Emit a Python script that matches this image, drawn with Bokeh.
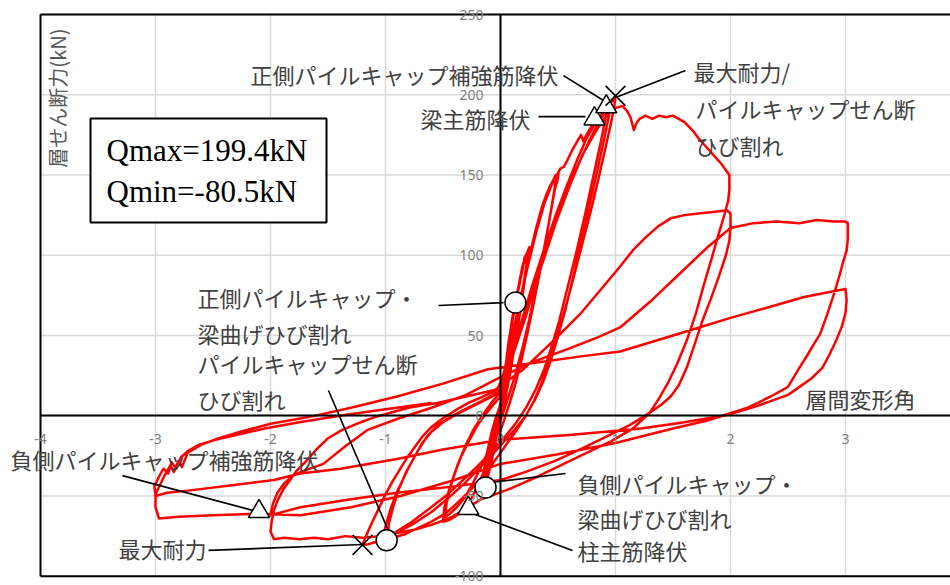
from math import pi
from bokeh.plotting import figure
from bokeh.models import Range1d, FixedTicker, Label, BoxAnnotation
from bokeh.embed import file_html
from bokeh.resources import INLINE

# ---------------- hysteresis path: drift angle (%) / storey shear (kN), cycle by cycle
c010_x = [0, 0.02, 0.04, 0.06, 0.08, 0.07, 0.05, 0.02, 0.0, -0.03, -0.06, -0.09, -0.1, -0.08, -0.05, -0.02]
c010_y = [0, 12, 25, 38, 50, 46, 34, 16, 5, -7, -17, -26, -30, -21, -9, 0]

c025a_x = [0.01, 0.04, 0.07, 0.10, 0.13, 0.16, 0.18, 0.2, 0.21, 0.22, 0.23, 0.24, 0.25, 0.24, 0.21, 0.17, 0.12, 0.08,
           0.04, 0.01, -0.02, -0.05, -0.08, -0.11, -0.14, -0.15, -0.13, -0.1, -0.06, -0.03]
c025a_y = [6, 24, 44, 60, 70.5, 80, 87, 94, 99, 95, 101, 103, 105, 99, 84, 64, 42, 25,
           10, 0, -9, -19, -29, -38, -45, -47, -38, -25, -11, -2]

c025b_x = [0.0, 0.04, 0.08, 0.12, 0.16, 0.19, 0.22, 0.24, 0.23, 0.2, 0.15, 0.1, 0.06, 0.02, -0.02, -0.06, -0.1, -0.14,
           -0.17, -0.15, -0.12, -0.08, -0.04, -0.01]
c025b_y = [4, 26, 48, 66, 82, 93, 100, 102, 96, 82, 58, 35, 18, 4, -8, -19, -30, -40,
           -46, -37, -24, -11, -1, 5]

c050a_x = [0.03, 0.08, 0.14, 0.2, 0.26, 0.31, 0.36, 0.4, 0.43, 0.46, 0.48, 0.49, 0.5, 0.505, 0.5, 0.47, 0.43, 0.38,
           0.33, 0.28, 0.23, 0.18, 0.13, 0.08, 0.03, -0.02, -0.08, -0.14, -0.2, -0.25, -0.29, -0.34, -0.4, -0.45,
           -0.5, -0.49, -0.45, -0.4, -0.34, -0.27, -0.2, -0.13, -0.06, 0.0]
c050a_y = [14, 36, 60, 82, 102, 117, 130, 138, 143, 147, 150, 145, 148, 152, 149, 140, 124, 104,
           85, 67, 50, 34, 20, 8, -3, -13, -24, -34, -44, -51, -56, -60, -63, -65,
           -66, -58, -47, -36, -25, -15, -6, 1, 7, 12]

c050b_x = [0.04, 0.1, 0.16, 0.22, 0.28, 0.34, 0.39, 0.43, 0.46, 0.48, 0.46, 0.42, 0.37, 0.31, 0.25, 0.19, 0.13, 0.07,
           0.02, -0.04, -0.1, -0.17, -0.24, -0.31, -0.38, -0.44, -0.48, -0.47, -0.43, -0.37, -0.3, -0.23, -0.15,
           -0.08, -0.02]
c050b_y = [24, 46, 68, 89, 107, 123, 135, 142, 147, 146, 137, 120, 101, 80, 60, 42, 26, 12,
           1, -10, -21, -32, -42, -51, -57, -61, -63, -55, -43, -30, -18, -8, 1,
           8, 13]

c100a_x = [0.04, 0.1, 0.17, 0.24, 0.31, 0.38, 0.44, 0.49, 0.52, 0.55, 0.58, 0.62, 0.66, 0.7, 0.72, 0.74, 0.78, 0.82,
           0.86, 0.9, 0.93, 0.96, 0.98, 1.0,
           0.99, 0.96, 0.91, 0.85, 0.78, 0.7, 0.62, 0.54, 0.47, 0.41, 0.35, 0.29, 0.22, 0.14, 0.06, -0.02, -0.1,
           -0.18, -0.27, -0.37, -0.48, -0.6, -0.72, -0.84, -0.94, -0.99, -1.05, -1.1, -1.15, -1.2,
           -1.17, -1.12, -1.06, -1.0, -0.94, -0.88, -0.82, -0.75, -0.68, -0.6, -0.51, -0.4, -0.28, -0.15, -0.03]
c100a_y = [30, 50, 72, 94, 114, 132, 143, 150, 154, 155, 159, 165, 170, 175, 171, 174, 179, 183,
           186, 189, 192, 195, 197, 199.4,
           193, 182, 166, 147, 126, 104, 82, 61, 44, 31, 19, 9, 0, -9, -17, -25, -33,
           -40, -47, -54, -61, -66, -70, -74, -76, -77.6, -78.5, -79, -80, -80.5,
           -75, -67, -58, -49, -41, -34, -27, -20, -13, -7, -2, 3, 8, 12, 16]

c100b_x = [0.08, 0.18, 0.28, 0.38, 0.48, 0.58, 0.67, 0.75, 0.82, 0.87, 0.91, 0.94, 0.96,
           0.94, 0.9, 0.84, 0.77, 0.7, 0.63, 0.56, 0.49, 0.43, 0.37, 0.3, 0.22, 0.12, 0.02, -0.08, -0.19, -0.31,
           -0.45, -0.6, -0.75, -0.88, -0.97, -1.02,
           -1.0, -0.96, -0.91, -0.85, -0.79, -0.72, -0.64, -0.55, -0.44, -0.31, -0.17, -0.04]
c100b_y = [34, 58, 82, 104, 125, 144, 160, 173, 182, 187, 190, 193, 194.5,
           186, 172, 152, 130, 108, 86, 65, 47, 33, 21, 10, 0, -9, -17, -25, -33, -42,
           -51, -60, -67, -72, -75, -76.5,
           -69, -59, -49, -40, -31, -22, -13, -6, -1, 4, 9, 14]

c100c_x = [0.06, 0.16, 0.28, 0.4, 0.52, 0.63, 0.73, 0.81, 0.87, 0.91, 0.93,
           0.91, 0.87, 0.81, 0.74, 0.66, 0.58, 0.51, 0.44, 0.38, 0.31, 0.23, 0.14, 0.04, -0.06, -0.18, -0.31,
           -0.46, -0.62, -0.77, -0.9, -0.98,
           -0.97, -0.93, -0.88, -0.82, -0.75, -0.68, -0.6, -0.5, -0.38, -0.24, -0.1, 0.0]
c100c_y = [29, 52, 79, 105, 129, 149, 165, 177, 185, 189, 191.5,
           184, 170, 150, 127, 102, 79, 59, 42, 29, 17, 6, -4, -13, -21, -30, -39,
           -49, -58, -66, -72, -75.5,
           -67, -56, -45, -35, -26, -17, -10, -4, 1, 6, 11, 15]

c200a_x = [0.1, 0.22, 0.35, 0.48, 0.6, 0.71, 0.81, 0.89, 0.95, 1.01, 1.06, 1.1, 1.13, 1.16, 1.18, 1.21, 1.26, 1.32,
           1.38, 1.44, 1.5, 1.55, 1.6, 1.64, 1.68, 1.72, 1.77, 1.82, 1.87, 1.92, 1.96, 1.99,
           1.99, 1.98, 1.95, 1.9, 1.84, 1.77, 1.7, 1.62, 1.54, 1.46, 1.38, 1.3, 1.15, 0.96, 0.78, 0.55, 0.32, 0.1,
           -0.05, -0.17, -0.3, -0.45, -0.6, -0.75, -0.9, -1.05, -1.2, -1.35, -1.5, -1.62, -1.75, -1.88, -1.97,
           -2.0, -1.99,
           -1.97, -1.94, -1.89, -1.83, -1.77, -1.7, -1.6, -1.5, -1.38, -1.25, -1.1, -0.95, -0.8, -0.55, -0.3, -0.05]
c200a_y = [36, 62, 92, 120, 143, 162, 175, 184, 189, 192, 193, 190, 186, 178, 182, 185, 187, 185,
           187, 186, 187, 185, 183, 180, 177, 173, 169, 165, 161, 157, 153, 150,
           141, 134, 126, 114, 99, 82, 64, 47, 33, 21, 11, 2, -8, -16, -22, -30, -38, -45,
           -49, -52, -58, -64, -68, -71, -73, -75, -76, -75, -77, -76, -77, -76, -77,
           -72, -66,
           -59, -53, -46, -40, -34, -29, -21, -14, -9, -5, -1, 2, 5, 8, 12, 16]

c200b_x = [0.2, 0.45, 0.7, 0.9, 1.04, 1.15, 1.26, 1.37, 1.48, 1.6, 1.72, 1.85, 1.97, 2.0,
           2.0, 1.99, 1.96, 1.9, 1.83, 1.76, 1.69, 1.62, 1.55, 1.48, 1.4, 1.3, 1.12, 0.92, 0.72, 0.48, 0.22, 0.0,
           -0.4, -0.9, -1.3, -1.74, -1.95, -2.0,
           -1.98, -1.94, -1.88, -1.8, -1.7, -1.54, -1.35, -1.16, -0.9, -0.6, -0.3, -0.11, 0.0]
c200b_y = [29, 46, 64, 81, 93, 103, 111, 118, 123, 125, 126, 127, 128, 126,
           117, 109, 100, 87, 73, 60, 45, 30, 19, 12, 7, 2, -6, -13, -20, -28, -35, -40,
           -44, -48, -52, -57, -61, -62,
           -55, -48, -42, -37, -34, -30, -19, -9, -2, 5, 13, 20, 24]

c300a_x = [0.3, 0.6, 0.85, 1.04, 1.3, 1.55, 1.8, 2.0, 2.2, 2.4, 2.6, 2.75, 2.9, 3.0, 3.02,
           3.02, 3.01, 2.98, 2.95, 2.9, 2.84, 2.78, 2.72, 2.67, 2.6, 2.5, 2.35, 2.15, 1.8, 1.5, 1.0, 0.5, 0.0,
           -0.4, -0.87, -1.3, -1.74, -2.1, -2.5, -2.8, -2.97,
           -3.0, -3.0, -2.96, -2.92, -2.87, -2.84, -2.8, -2.77, -2.72, -2.6, -2.45, -2.26, -2.0, -1.68, -1.3,
           -0.9, -0.5, -0.11]
c300a_y = [34, 42, 49, 55, 71, 88, 105, 117, 120, 121, 120, 122, 121, 121, 120,
           110, 103, 96, 88, 76, 63, 51, 44, 38, 30, 18, 12, 5, -3, -8, -17, -24, -30,
           -40, -50, -57, -62, -61, -62, -63, -64,
           -57, -49, -43, -37, -31, -35, -28, -32, -23, -18, -14, -10, -5, -1, 5,
           12, 20, 29]

c300b_x = [0.3, 0.7, 1.04, 1.5, 2.0, 2.3, 2.64, 2.85, 3.0,
           3.01, 3.0, 2.97, 2.92, 2.86, 2.8, 2.7, 2.6, 2.5, 2.23, 2.0, 1.6, 1.22, 0.6, 0.0, -0.5, -0.9, -1.39,
           -1.74, -1.97, -2.3, -2.7, -2.9, -3.0,
           -3.01, -2.97, -2.93, -2.89, -2.86, -2.82, -2.78, -2.72, -2.62, -2.48, -2.3, -2.05, -1.75, -1.4, -1.0,
           -0.6]
c300b_y = [33, 37, 40, 50, 61, 67, 74, 77, 79,
           72, 64, 56, 47, 38, 30, 23, 18, 13, 6, 1, -4, -8, -12, -15, -21, -27, -33,
           -36, -40, -43, -46.5, -48, -50,
           -44, -38, -33, -36, -29, -33, -26, -22, -18, -15, -12, -8, -4, 0, 4,
           8]

cycles_x = [c010_x, c025a_x, c025b_x, c050a_x, c050b_x, c100a_x, c100b_x, c100c_x, c200a_x, c200b_x, c300a_x, c300b_x]
cycles_y = [c010_y, c025a_y, c025b_y, c050a_y, c050b_y, c100a_y, c100b_y, c100c_y, c200a_y, c200b_y, c300a_y, c300b_y]
drift = [v for c in cycles_x for v in c]
shear = [v for c in cycles_y for v in c]

# ---------------- axes ticks / plot-area limits
x_ticks = [-4, -3, -2, -1, 0, 1, 2, 3]
x_tick_labels = ["-4", "-3", "-2", "-1", "0", "1", "2", "3"]
y_ticks = [-100, -50, 0, 50, 100, 150, 200, 250]
y_tick_labels = ["-100", "-50", "0", "50", "100", "150", "200", "250"]
x_lo, x_hi = -4, 3.913
y_lo, y_hi = -100, 250

# ---------------- event markers
tri_x = [0.817, 0.92, -0.28, -2.1]
tri_y = [185.0, 192.5, -57.7, -59.6]
circ_x = [0.13, -0.13, -0.99]
circ_y = [70.5, -44.7, -77.6]
cross_x = [1.0, -1.2]
cross_y = [199.4, -80.5]

# ---------------- leader lines
lead_x0 = [0.548, 0.33, 1.609, -0.539, -1.496, -3.287, -2.539, -0.087, -0.243]
lead_y0 = [211.9, 186.4, 215.1, 68.7, 15.7, -37.3, -83.9, -41.6, -60.9]
lead_x1 = [0.896, 0.739, 1.0, 0.026, -0.983, -2.148, -1.2, 0.565, 0.626]
lead_y1 = [196.4, 186.4, 198.3, 70.5, -70.3, -59.1, -80.2, -36.0, -83.9]

# ---------------- annotation texts (left edge, vertical middle)
ann_text = ["正側パイルキャップ補強筋降伏", "梁主筋降伏", "最大耐力/", "パイルキャップせん断", "ひび割れ",
            "正側パイルキャップ・", "梁曲げひび割れ", "パイルキャップせん断", "ひび割れ",
            "負側パイルキャップ補強筋降伏", "最大耐力",
            "負側パイルキャップ・", "梁曲げひび割れ", "柱主筋降伏", "層間変形角"]
ann_x = [-2.174, -0.696, 1.678, 1.696, 1.696, -2.635, -2.635, -2.635, -2.635, -4.26, -3.322, 0.67, 0.67, 0.67, 2.652]
ann_y = [213.2, 185.8, 215.1, 192.0, 168.4, 73.7, 51.8, 33.1, 10.7, -26.7, -82.7, -41.6, -64.0, -83.9, 11.3]

box_lrtb = [-3.565, -1.513, 185.2, 120.4]
box_text = ["Qmax=199.4kN", "Qmin=-80.5kN"]
box_text_x = [-3.426, -3.426]
box_text_y = [165.2, 139.7]

y_title = "層せん断力(kN)"
y_title_xy = [-3.852, 197.9]

# ---------------- figure (plot area fills the canvas; -4 / 250 sit 40 / 14 px in)
PX_X, PX_Y = 115.0, 1.605
W, H = 950, 584
x0 = x_lo - 40 / PX_X
y1 = y_hi + 14 / PX_Y
p = figure(width=W, height=H, x_range=Range1d(x0, x0 + W / PX_X), y_range=Range1d(y1 - H / PX_Y, y1),
           output_backend="svg", toolbar_location=None,
           min_border_left=0, min_border_right=0, min_border_top=0, min_border_bottom=0)
p.outline_line_color = None
p.background_fill_color = "white"
p.border_fill_color = "white"
p.xgrid.visible = False
p.ygrid.visible = False

for ax, ticks, labels, bnds in ((p.xaxis, x_ticks, x_tick_labels, (x_lo, x_hi)),
                                (p.yaxis, y_ticks, y_tick_labels, (y_lo, y_hi))):
    ax.ticker = FixedTicker(ticks=ticks)
    ax.major_label_overrides = dict(zip(ticks, labels))
    ax.fixed_location = 0
    ax.bounds = bnds
    ax.axis_line_color = "black"
    ax.axis_line_width = 2
    ax.major_tick_line_color = None
    ax.minor_tick_line_color = None
    ax.major_label_text_font = "Noto Sans"
    ax.major_label_text_font_size = "14px"
    ax.major_label_text_color = "#808080"
p.xaxis.major_label_standoff = 12
p.yaxis.major_label_standoff = 11

# gridlines inside the plot area only
p.segment(x_ticks, [y_lo] * len(x_ticks), x_ticks, [y_hi] * len(x_ticks), line_color="#d9d9d9", line_width=1.5)
p.segment([x_lo] * len(y_ticks), y_ticks, [x_hi + 0.2] * len(y_ticks), y_ticks, line_color="#d9d9d9", line_width=1.5)

p.line(drift, shear, line_color="#ff0000", line_width=2.5, line_join="round")

# plot-area border (left, top, bottom)
p.segment([x_lo, x_lo, x_lo], [y_lo, y_hi, y_lo], [x_lo, x_hi + 0.2, x_hi + 0.2], [y_hi, y_hi, y_lo],
          line_color="black", line_width=2)

p.segment(lead_x0, lead_y0, lead_x1, lead_y1, line_color="black", line_width=1.6)
p.scatter(tri_x, tri_y, marker="triangle", size=21, fill_color="white", line_color="black", line_width=1.5)
p.scatter(circ_x, circ_y, marker="circle", size=21, fill_color="white", line_color="black", line_width=1.5)
p.scatter(cross_x, cross_y, marker="x", size=28, line_color="black", line_width=1.6)

p.add_layout(BoxAnnotation(left=box_lrtb[0], right=box_lrtb[1], top=box_lrtb[2], bottom=box_lrtb[3],
                           fill_color="white", fill_alpha=1.0, line_color="black", line_alpha=1.0,
                           line_width=2))
for t, x, y in zip(box_text, box_text_x, box_text_y):
    p.add_layout(Label(x=x, y=y, text=t, text_font="Liberation Serif", text_font_size="31px",
                       text_color="black", text_align="left", text_baseline="middle"))

for t, x, y in zip(ann_text, ann_x, ann_y):
    p.add_layout(Label(x=x, y=y, text=t, text_font="Noto Sans CJK JP", text_font_size="22px",
                       text_color="#404040", text_align="left", text_baseline="middle"))

p.add_layout(Label(x=y_title_xy[0], y=y_title_xy[1], text=y_title, angle=pi / 2,
                   text_font="Noto Sans CJK JP", text_font_size="20px", text_color="#595959",
                   text_align="center", text_baseline="middle"))

open("out.html", "w").write(file_html(p, INLINE))
